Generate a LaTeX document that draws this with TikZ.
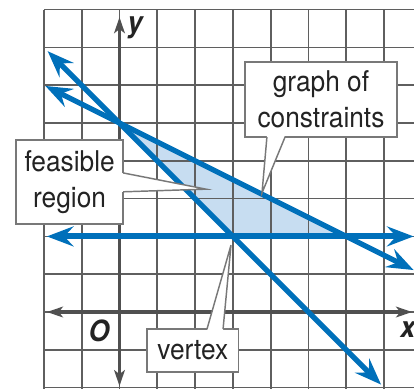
\documentclass[tikz,border=0pt]{standalone}
\usepackage{fontspec}
\setmainfont{TeX Gyre Heros}[FakeStretch=0.92]
\usetikzlibrary{arrows.meta,calc}

\definecolor{lineblue}{RGB}{0,112,186}
\definecolor{regionblue}{RGB}{199,221,241}
\definecolor{gridgray}{RGB}{95,95,95}
\definecolor{axisgray}{RGB}{80,80,80}
\definecolor{boxgray}{RGB}{120,120,120}
\definecolor{textgray}{RGB}{35,35,35}

\tikzset{
  gridline/.style={gridgray, line width=1.3pt},
  axisline/.style={axisgray, line width=2.8pt,
    arrows={Stealth[length=12pt,width=8pt,inset=3pt]-Stealth[length=12pt,width=8pt,inset=3pt]}},
  constraint/.style={lineblue, line width=4.4pt,
    arrows={Stealth[length=20pt,width=15pt,inset=7pt]-Stealth[length=20pt,width=15pt,inset=7pt]}},
  labelbox/.style={draw=boxgray, line width=1.1pt, fill=white, inner sep=0pt, outer sep=0pt,
    align=center, text=textgray, font=\fontsize{21.5}{27}\selectfont},
  tailline/.style={boxgray, line width=1.1pt},
  axislabel/.style={inner sep=0pt, text=textgray, font=\fontsize{22}{22}\selectfont\bfseries\itshape}
}

\begin{document}
\begin{tikzpicture}
  \useasboundingbox (-3.161,-2.011) rectangle (7.791,8.254);
  \clip (-3.161,-2.011) rectangle (7.791,8.254);

  % feasible region and grid
  \coordinate (yint) at (0,5);
  \coordinate (vtx) at (3,2);
  \coordinate (corner) at (6,2);
  \fill[regionblue] (yint) -- (vtx) -- (corner) -- cycle;
  \draw[gridline] (-2,-2.1) grid (7.9,8);

  % axes
  \coordinate (xl) at (-1.92,0);
  \coordinate (xr) at (7.74,0);
  \coordinate (yb) at (0,-1.96);
  \coordinate (yt) at (0,7.8);
  \draw[axisline] (xl) -- (xr);
  \draw[axisline] (yb) -- (yt);

  % constraint lines
  \coordinate (hl) at (-1.92,2);
  \coordinate (hr) at (7.78,2);
  \coordinate (sl) at (-1.9,6.9);
  \coordinate (sr) at (6.92,-1.92);
  \coordinate (fl) at (-1.96,5.98);
  \coordinate (fr) at (7.78,1.11);
  \draw[constraint] (hl) -- (hr);
  \draw[constraint, line width=4pt] (sl) -- (sr);
  \draw[constraint, line width=4pt] (fl) -- (fr);

  % callouts
  \node[labelbox, minimum width=2.83cm, minimum height=2.22cm] (feas) at (-1.32,3.44) {feasible\\region};
  \coordinate (feastip) at (2.29,3.25);
  \fill[white] ($(feas.east)+(-0.05,0.24)$) -- (feastip) -- ($(feas.east)+(-0.05,-0.26)$) -- cycle;
  \draw[tailline] ($(feas.east)+(0,0.24)$) -- (feastip) -- ($(feas.east)+(0,-0.26)$);

  \node[labelbox, minimum width=4.02cm, minimum height=1.98cm] (graph) at (5.33,5.62) {graph of\\constraints};
  \coordinate (graphtip) at (3.77,3.15);
  \fill[white] ($(graph.south)+(-1.43,0.05)$) -- (graphtip) -- ($(graph.south)+(-0.95,0.05)$) -- cycle;
  \draw[tailline] ($(graph.south)+(-1.43,0)$) -- (graphtip) -- ($(graph.south)+(-0.95,0)$);

  \node[labelbox, minimum width=2.43cm, minimum height=1.14cm] (vert) at (1.94,-1.02) {vertex};
  \coordinate (verttip) at (2.95,1.77);
  \fill[white] ($(vert.north)+(0.375,-0.05)$) -- (verttip) -- ($(vert.north)+(0.8,-0.05)$) -- cycle;
  \draw[tailline] ($(vert.north)+(0.375,0)$) -- (verttip) -- ($(vert.north)+(0.8,0)$);

  % axis labels
  \node[axislabel] (ylab) at (0.41,7.51) {y};
  \node[axislabel] (xlab) at (7.63,-0.47) {x};
  \node[axislabel] (orig) at (-0.54,-0.5) {O};
\end{tikzpicture}
\end{document}
